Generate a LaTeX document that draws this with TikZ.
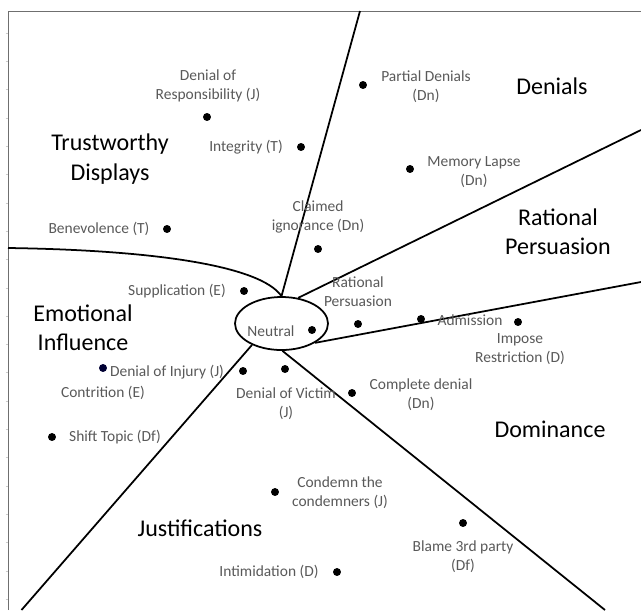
\documentclass[tikz,border=0pt]{standalone}
\usepackage{fontspec}
\setmainfont{Carlito}
\usepackage{xcolor}
\usepackage{tikz}
\usetikzlibrary{shapes.geometric}
\definecolor{lblgray}{HTML}{595959}
\definecolor{framegray}{HTML}{6F6F6F}

\begin{document}
\begin{tikzpicture}[x=0.3mm, y=-0.3mm,
    lbl/.style={text=lblgray, align=center, font=\fontsize{13.2}{16.5}\selectfont, inner sep=0pt},
    cat/.style={text=black, align=center, font=\fontsize{20.5}{25}\selectfont, inner sep=0pt},
    dot/.style={circle, fill=black, inner sep=0pt, minimum size=6.8pt},
    border/.style={line width=1.5pt, black}]
    \useasboundingbox (0,0) rectangle (641,610);

    % Frame
    \draw[framegray, line width=0.8pt] (8,610) -- (8,11) -- (641,11);
    \foreach \k in {0,...,20}
        \draw[black!20, line width=0.3pt] (5.5,33+28.3*\k) -- (8,33+28.3*\k);

    % Centre
    \node[draw, ellipse, line width=1.5pt, minimum width=27.9mm, minimum height=15.9mm] (neutral) at (281.5,323.5) {};
    \node[lbl] (neutraltxt) at (271,331) {Neutral};

    % Borders between regions
    \coordinate (ctop) at (360,11);
    \coordinate (cupright) at (641,130);
    \coordinate (cright) at (641,282);
    \coordinate (cdownright) at (605,610);
    \coordinate (cdownleft) at (21.5,610);
    \coordinate (cleft) at (8,248);
    \draw[border] (neutral.90) -- (ctop);
    \draw[border] (neutral.57) -- (cupright);
    \draw[border] (neutral.-30) -- (cright);
    \draw[border] (neutral.-88) -- (cdownright);
    \draw[border] (neutral.-144) -- (cdownleft);
    \draw[border] (cleft) .. controls (150,250) and (260,265) .. (neutral.90);

    % Regions
    \node[cat] (trust) at (110,159) {Trustworthy\\Displays};
    \node[cat] (denials) at (552,86) {Denials};
    \node[cat] (rational) at (558,232) {Rational\\Persuasion};
    \node[cat] (dominance) at (550,429) {Dominance};
    \node[cat] (justif) at (200,528) {Justifications};
    \node[cat] (emotion) at (83,328) {Emotional\\Influence};

    % Tactics
    \node[dot] (resp) at (207,117) {};
    \node[lbl] (resptxt) at (208,86) {Denial of\\Responsibility (J)};
    \node[dot] (integ) at (301,147) {};
    \node[lbl] (integtxt) at (246,147) {Integrity (T)};
    \node[dot] (benev) at (167,229) {};
    \node[lbl] (benevtxt) at (99,229) {Benevolence (T)};
    \node[dot] (suppl) at (244,291) {};
    \node[lbl] (suppltxt) at (177,291) {Supplication (E)};
    \node[dot] (claimed) at (318,249) {};
    \node[lbl] (claimedtxt) at (318,217) {Claimed\\ignorance (Dn)};
    \node[dot] (partial) at (363,85) {};
    \node[lbl] (partialtxt) at (426,87) {Partial Denials\\(Dn)};
    \node[dot] (memory) at (410,169) {};
    \node[lbl] (memorytxt) at (474,172) {Memory Lapse\\(Dn)};
    \node[dot] (ratdot) at (358,324) {};
    \node[lbl] (rattxt) at (358,292) {Rational\\Persuasion};
    \node[dot] (neutdot) at (312,330) {};
    \node[dot] (admis) at (421,319) {};
    \node[lbl] (admistxt) at (470,320) {Admission};
    \node[dot] (impose) at (518,322) {};
    \node[lbl] (imposetxt) at (520,349) {Impose\\Restriction (D)};
    \node[dot] (compl) at (352,393) {};
    \node[lbl] (compltxt) at (421,395) {Complete denial\\(Dn)};
    \node[dot] (victim) at (285,369) {};
    \node[lbl] (victimtxt) at (286,404) {Denial of Victim\\(J)};
    \node[dot] (contr) at (243,371) {};
    \node[lbl] (contrtxt) at (103,393) {Contrition (E)};
    \node[dot, fill=black!80!blue] (injury) at (103,368) {};
    \node[lbl] (injurytxt) at (167,372) {Denial of Injury (J)};
    \node[dot] (shift) at (52,437) {};
    \node[lbl] (shifttxt) at (115,437) {Shift Topic (Df)};
    \node[dot] (condemn) at (275,492) {};
    \node[lbl] (condemntxt) at (340,493) {Condemn the\\condemners (J)};
    \node[dot] (blame) at (463,523) {};
    \node[lbl] (blametxt) at (463,557) {Blame 3rd party\\(Df)};
    \node[dot] (intim) at (337,572) {};
    \node[lbl] (intimtxt) at (269,572) {Intimidation (D)};
\end{tikzpicture}
\end{document}
